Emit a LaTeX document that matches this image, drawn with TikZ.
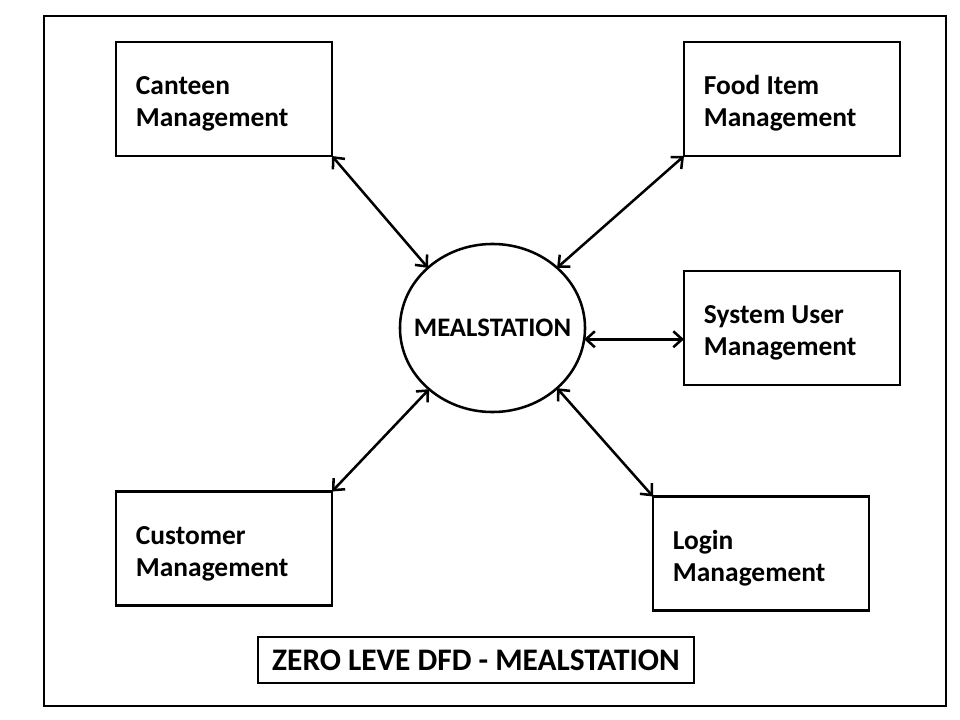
\documentclass[tikz,border=0pt]{standalone}
\usepackage{fontspec}
\setmainfont{Carlito}
\usetikzlibrary{arrows.meta,shapes.geometric}

\tikzset{
  module/.style={draw, rectangle, line width=2pt, minimum width=5.4cm, minimum height=2.85cm, inner xsep=0.5cm, text width=4.4cm, align=flush left, text height=20pt, outer sep=0pt, font=\fontsize{19.5}{22.8}\selectfont\bfseries},
  link/.style={{Straight Barb[length=2.2mm,width=4mm]}-{Straight Barb[length=2.2mm,width=4mm]}, line width=1.8pt}
}

\begin{document}
\begin{tikzpicture}[x=0.025cm, y=-0.025cm]
    \useasboundingbox (0,0) rectangle (960,720);
    % Frame
    \draw[line width=1.5pt] (44,16) rectangle (946,706);

    % Process
    \node[draw, ellipse, line width=1.8pt, minimum width=4.625cm, minimum height=4.2cm, inner sep=0pt, outer sep=0pt] (mealstation) at (492.5,328) {};
    \node[font=\fontsize{19}{22}\selectfont\bfseries] (mealtext) at (mealstation.center) {MEALSTATION};

    % Modules
    \node[module] (canteen) at (224,99) {Canteen\\Management};
    \node[module] (fooditem) at (792,99) {Food Item\\Management};
    \node[module] (sysuser) at (792,328) {System User\\Management};
    \node[module] (customer) at (224,548.5) {Customer\\Management};
    \node[module] (login) at (761,553.5) {Login\\Management};

    % Title
    \node[draw, line width=2pt, minimum width=10.9cm, minimum height=1.15cm, inner sep=0pt, font=\fontsize{22.3}{24}\selectfont\bfseries] (title) at (476,660) {ZERO LEVE DFD - MEALSTATION};

    % Arrows
    \draw[link] (canteen.south east) -- (mealstation.137);
    \draw[link] (fooditem.south west) -- (mealstation.43);
    \draw[link] (mealstation.-7) -- (mealstation.-7 -| sysuser.west);
    \draw[link] (customer.north east) -- (mealstation.224);
    \draw[link] (login.north west) -- (mealstation.-43);
\end{tikzpicture}
\end{document}
